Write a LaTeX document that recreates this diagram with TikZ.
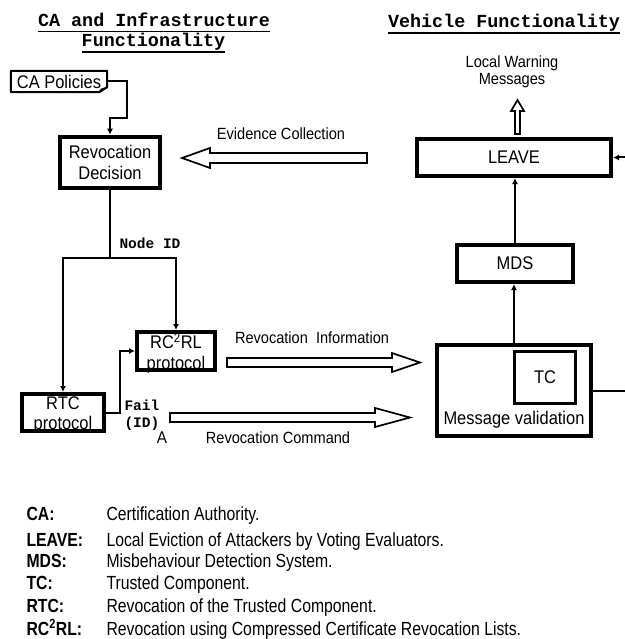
\documentclass[tikz,border=0pt]{standalone}
\usepackage{fontspec}
\setmainfont{Liberation Sans}[FakeStretch=0.9]
\newfontfamily\legendfont{Liberation Sans}[FakeStretch=0.83]
\newfontfamily\codefont{Liberation Mono}
\usetikzlibrary{arrows.meta}

\tikzset{
  box/.style={draw, line width=4pt, inner sep=0pt, align=center,
    font=\fontsize{18.3}{20.5}\selectfont},
  lowtext/.style={label={[align=center, font=\fontsize{18.3}{20.5}\selectfont,
    inner sep=0pt, yshift=-2.5pt]center:#1}},
  conn/.style={line width=2pt, -{Latex[length=6pt,width=6pt]}},
  wire/.style={line width=2pt},
  hollow/.style={draw, line width=1.7pt, fill=white, line join=miter},
  lbl/.style={font=\fontsize{16.2}{17}\selectfont, align=center},
  code/.style={font=\codefont\bfseries\fontsize{14.5}{19}\selectfont, anchor=west},
  heading/.style={font=\codefont\bfseries\fontsize{18.4}{20}\selectfont, anchor=base},
  uline/.style={line width=1.8pt},
  abbr/.style={font=\legendfont\bfseries\fontsize{19}{20}\selectfont, anchor=base west},
  defn/.style={font=\legendfont\fontsize{19}{20}\selectfont, anchor=base west},
}

\begin{document}
\begin{tikzpicture}[x=1pt,y=-1pt]
\useasboundingbox (0,0) rectangle (624,639);
\fill[white] (0,0) rectangle (624,639);

% headings
\node[heading] (h1) at (154,27) {CA and Infrastructure};
\node[heading] (h2) at (153.5,47) {Functionality};
\node[heading] (h3) at (504,28) {Vehicle Functionality};
\draw[uline] (38,31.5) -- (270,31.5);
\draw[uline] (82,52) -- (225,52);
\draw[uline] (388,33) -- (620,33);

% CA side
\node[inner sep=0pt, minimum width=96pt, minimum height=21pt,
      font=\fontsize{18.3}{20}\selectfont] (cap) at (59,81.5) {CA Policies};
\draw[line width=2pt, line join=round]
  (cap.north west) -- (cap.north east) -- ([yshift=5pt]cap.south east)
  -- ([xshift=-8pt]cap.south east) -- (cap.south west) -- cycle;
\draw[line width=1pt] ([xshift=-8pt]cap.south east) -- ([xshift=-6pt,yshift=3pt]cap.south east)
  -- ([yshift=5pt]cap.south east);

\node[box, minimum width=100pt, minimum height=51pt, line width=4.5pt] (rd) at (110,162.5)
  {Revocation\\Decision};
\node[box, minimum width=78pt, minimum height=38pt,
      lowtext={RC\textsuperscript{2}RL\\protocol}] (rc) at (176,351) {};
\node[box, minimum width=82pt, minimum height=37pt,
      lowtext={RTC\\protocol}] (rtc) at (63,412.5) {};

% vehicle side
\node[box, minimum width=194pt, minimum height=37pt] (leave) at (514,157.5) {LEAVE};
\node[box, minimum width=116pt, minimum height=37pt] (mds) at (515,263.5) {MDS};
\node[box, minimum width=154pt, minimum height=91pt] (mv) at (514,390.5) {};
\node[box, line width=3pt, minimum width=61pt, minimum height=52pt] (tc) at (545,377.5) {TC};
\node[font=\fontsize{18.3}{20}\selectfont] (mvtext) at (514,420) {Message validation};

% connectors
\draw[conn] (cap.east) -| (127,118) -| (rd.north);
\draw[wire] (rd.south) -- (110,258) coordinate (split);
\draw[conn] (split) -| (rtc.north);
\draw[conn] (split) -| (rc.north);
\draw[conn] (rtc.east) -- ++(14,0) |- (rc.west);
\draw[conn] (mv.north) -- (mv.north |- mds.south);
\draw[conn] (mds.north) -- (mds.north |- leave.south);
\draw[conn] (mv.east) -- ++(34,0) |- (leave.east);

\node[code] (nodeid) at (116,243) {Node ID};
\node[code] (fail) at (121,405) {Fail};
\node[code] (failid) at (121,424) {(ID)};
\node[font=\fontsize{17}{18}\selectfont] (amark) at (162,438) {A};

% wide hollow arrows
\draw[hollow] (367,153) -- (210,153) -- (210,148) -- (182,158) -- (210,168)
  -- (210,163) -- (367,163) -- cycle;
\node[lbl] (evl) at (281,134) {Evidence Collection};

\draw[hollow] (227,358) -- (392,358) -- (392,353) -- (420,362.5) -- (392,372)
  -- (392,367) -- (227,367) -- cycle;
\node[lbl] (ril) at (312,338) {Revocation\ \ Information};

\draw[hollow] (170,413) -- (375,413) -- (375,408) -- (410,417.5) -- (375,427)
  -- (375,422) -- (170,422) -- cycle;
\node[lbl] (rcl) at (278,438) {Revocation Command};

\draw[hollow] (515,134) -- (515,111) -- (511,111) -- (517.5,100) -- (524,111)
  -- (520,111) -- (520,134) -- cycle;
\node[lbl] (lwm) at (512,72) {Local Warning\\Messages};

% legend
\node[abbr] (a1) at (23,520.5) {CA:};
\node[abbr] (a2) at (23,546) {LEAVE:};
\node[abbr] (a3) at (23,567.5) {MDS:};
\node[abbr] (a4) at (23,589.5) {TC:};
\node[abbr] (a5) at (23,612) {RTC:};
\node[abbr] (a6) at (23,635) {RC\textsuperscript{2}RL:};
\node[defn] (d1) at (103,520.5) {Certification Authority.};
\node[defn] (d2) at (103,546) {Local Eviction of Attackers by Voting Evaluators.};
\node[defn] (d3) at (103,567.5) {Misbehaviour Detection System.};
\node[defn] (d4) at (103,589.5) {Trusted Component.};
\node[defn] (d5) at (103,612) {Revocation of the Trusted Component.};
\node[defn] (d6) at (103,635) {Revocation using Compressed Certificate Revocation Lists.};
\end{tikzpicture}
\end{document}
